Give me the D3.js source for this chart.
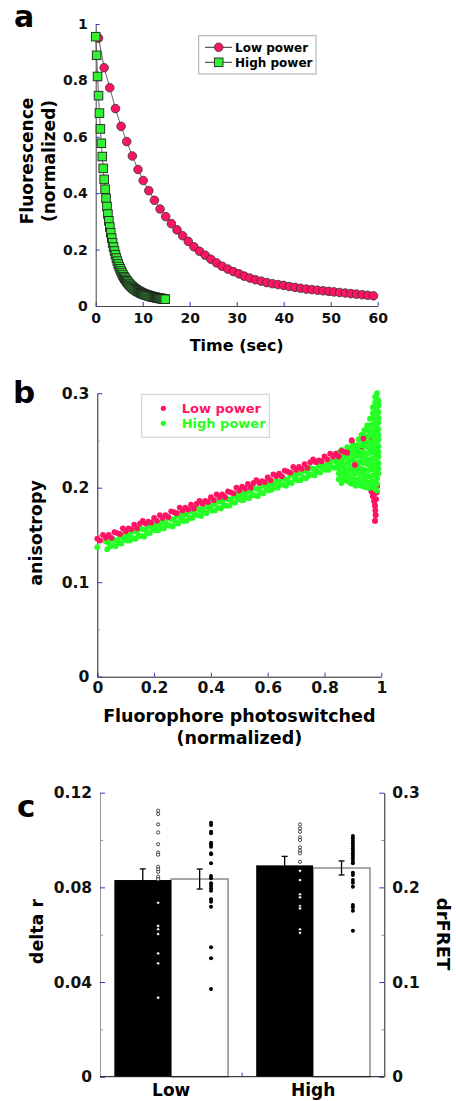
<!DOCTYPE html>
<html>
<head>
<meta charset="utf-8">
<script src="https://d3js.org/d3.v7.min.js"></script>
<style>
body { margin: 0; background: #fff; }
svg text { font-family: "DejaVu Sans", sans-serif; font-weight: bold; }
</style>
</head>
<body>
<div id="chart"></div>
<script>

// ---- panel a: fluorescence decay ----
var lowTime = [0.6,1.8,3.0,4.2,5.4,6.6,7.8,9.0,10.1,11.3,12.5,13.7,14.9,16.1,17.3,18.5,19.7,20.9,22.1,23.3,
  24.5,25.7,26.9,28.1,29.3,30.5,31.6,32.8,34.0,35.2,36.4,37.6,38.8,40.0,41.2,42.4,43.6,44.8,46.0,47.2,
  48.4,49.6,50.7,51.9,53.1,54.3,55.5,56.7,57.9,59.1];
var lowFluor = [0.950,0.845,0.774,0.700,0.637,0.583,0.532,0.484,0.445,0.409,
  0.375,0.344,0.317,0.292,0.270,0.249,0.229,0.210,0.194,0.180,
  0.166,0.153,0.141,0.131,0.122,0.114,0.106,0.099,0.093,0.088,
  0.083,0.079,0.076,0.073,0.069,0.066,0.063,0.060,0.058,0.056,
  0.054,0.052,0.050,0.048,0.046,0.044,0.042,0.040,0.038,0.036];
var highTime = [0,0.2,0.4,0.6,0.8,1.0,1.2,1.4,1.6,1.8,2.0,2.2,2.4,2.6,2.8,3.0,3.2,3.4,3.6,3.8,
  4.0,4.2,4.4,4.6,4.8,5.0,5.2,5.4,5.6,5.8,6.0,6.2,6.4,6.6,6.8,7.0,7.2,7.4,7.6,7.8,
  8.0,8.2,8.4,8.6,8.8,9.0,9.2,9.4,9.6,9.8,10.0,10.2,10.4,10.6,10.8,11.0,11.2,11.4,11.6,11.8,
  12.0,12.2,12.4,12.6,12.8,13.0,13.2,13.4,13.6,13.8,14.0,14.2,14.4,14.6,14.8];
var highFluor = [0.955,0.889,0.814,0.746,0.684,0.628,0.577,0.530,0.488,0.449,
  0.414,0.382,0.353,0.326,0.302,0.280,0.260,0.241,0.224,0.209,
  0.195,0.182,0.170,0.159,0.149,0.140,0.132,0.124,0.117,0.110,
  0.104,0.099,0.094,0.089,0.085,0.080,0.077,0.073,0.070,0.067,
  0.064,0.061,0.059,0.057,0.054,0.052,0.051,0.049,0.047,0.045,
  0.044,0.043,0.041,0.040,0.039,0.038,0.037,0.036,0.035,0.034,
  0.033,0.032,0.031,0.031,0.030,0.029,0.029,0.028,0.027,0.027,
  0.026,0.026,0.025,0.025,0.024];
var timeTicks = [0,10,20,30,40,50,60];
var fluorTicks = [0,0.2,0.4,0.6,0.8,1];

// ---- panel b: anisotropy vs fraction switched ----
var lowAniso = [
  [0.00,0.146],[0.01,0.144],[0.02,0.150],[0.03,0.147],[0.04,0.150],[0.05,0.147],[0.06,0.153],[0.07,0.152],
  [0.08,0.151],[0.09,0.157],[0.10,0.154],[0.11,0.157],[0.12,0.156],[0.13,0.161],[0.14,0.157],[0.15,0.162],
  [0.16,0.165],[0.17,0.162],[0.18,0.164],[0.19,0.163],[0.20,0.168],[0.21,0.165],[0.22,0.171],[0.23,0.168],
  [0.24,0.171],[0.25,0.169],[0.26,0.175],[0.27,0.174],[0.28,0.173],[0.29,0.179],[0.30,0.176],[0.31,0.179],
  [0.32,0.177],[0.33,0.182],[0.34,0.178],[0.35,0.183],[0.36,0.186],[0.37,0.183],[0.38,0.186],[0.39,0.185],
  [0.40,0.190],[0.41,0.187],[0.42,0.193],[0.43,0.190],[0.44,0.193],[0.45,0.190],[0.46,0.196],[0.47,0.195],
  [0.48,0.194],[0.49,0.200],[0.50,0.197],[0.51,0.201],[0.52,0.199],[0.53,0.204],[0.54,0.200],[0.55,0.205],
  [0.56,0.208],[0.57,0.205],[0.58,0.207],[0.59,0.206],[0.60,0.211],[0.61,0.208],[0.62,0.214],[0.63,0.212],
  [0.64,0.215],[0.65,0.212],[0.66,0.218],[0.67,0.217],[0.68,0.216],[0.69,0.222],[0.70,0.219],[0.71,0.222],
  [0.72,0.220],[0.73,0.225],[0.74,0.221],[0.75,0.227],[0.76,0.230],[0.77,0.227],[0.78,0.229],[0.79,0.228],
  [0.80,0.233],[0.81,0.230],[0.82,0.236],[0.83,0.233],[0.84,0.236],[0.85,0.233],[0.86,0.239],[0.87,0.238],
  [0.88,0.237]];
// pink points in the fan / spike, mostly hidden under the green cloud
var lowAnisoTail = [
  [0.89,0.240],[0.896,0.250],[0.90,0.237],[0.905,0.236],[0.91,0.238],[0.92,0.239],[0.93,0.241],[0.937,0.252],
  [0.945,0.244],[0.955,0.246],[0.965,0.250],[0.97,0.255],
  [0.866,0.213],[0.87,0.216],[0.90,0.219],[0.907,0.224],[0.91,0.221],[0.92,0.226],[0.93,0.218],[0.94,0.208],
  [0.95,0.205],[0.96,0.201],[0.965,0.196],[0.97,0.191],[0.972,0.199],[0.975,0.186],[0.977,0.194],[0.978,0.181],
  [0.979,0.176],[0.98,0.171],[0.978,0.165],[0.982,0.188],[0.984,0.195],[0.986,0.202]];
var lowAnisoOver = [[0.907,0.224],[0.896,0.250],[0.937,0.252],[0.978,0.181],[0.98,0.171],[0.978,0.165],[0.975,0.186]];
var highAniso = [
  [0.00,0.137],[0.03,0.143],[0.035,0.135],[0.04,0.142],[0.045,0.138],[0.05,0.146],[0.055,0.139],
  [0.06,0.145],[0.065,0.138],[0.07,0.144],[0.075,0.142],[0.08,0.148],[0.085,0.141],[0.09,0.150],[0.095,0.145],
  [0.10,0.148],[0.105,0.144],[0.11,0.150],[0.115,0.144],[0.12,0.153],[0.125,0.147],[0.13,0.154],[0.135,0.146],
  [0.14,0.153],[0.145,0.149],[0.15,0.157],[0.155,0.149],[0.16,0.156],[0.165,0.148],[0.17,0.155],[0.175,0.152],
  [0.18,0.159],[0.185,0.152],[0.19,0.161],[0.195,0.156],[0.20,0.159],[0.205,0.155],[0.21,0.161],[0.215,0.155],
  [0.22,0.163],[0.225,0.158],[0.23,0.164],[0.235,0.157],[0.24,0.163],[0.245,0.160],[0.25,0.168],[0.255,0.160],
  [0.26,0.167],[0.265,0.159],[0.27,0.166],[0.275,0.163],[0.28,0.170],[0.285,0.162],[0.29,0.172],[0.295,0.166],
  [0.30,0.170],[0.305,0.165],[0.31,0.172],[0.315,0.165],[0.32,0.174],[0.325,0.168],[0.33,0.175],[0.335,0.168],
  [0.34,0.174],[0.345,0.171],[0.35,0.178],[0.355,0.171],[0.36,0.177],[0.365,0.170],[0.37,0.176],[0.375,0.174],
  [0.38,0.180],[0.385,0.173],[0.39,0.182],[0.395,0.177],[0.40,0.181],[0.405,0.176],[0.41,0.183],[0.415,0.176],
  [0.42,0.185],[0.425,0.179],[0.43,0.186],[0.435,0.178],[0.44,0.185],[0.445,0.181],[0.45,0.189],[0.455,0.181],
  [0.46,0.188],[0.465,0.181],[0.47,0.187],[0.475,0.185],[0.48,0.191],[0.485,0.184],[0.49,0.193],[0.495,0.188],
  [0.50,0.191],[0.505,0.187],[0.51,0.193],[0.515,0.187],[0.52,0.195],[0.525,0.190],[0.53,0.196],[0.535,0.189],
  [0.54,0.196],[0.545,0.192],[0.55,0.200],[0.555,0.192],[0.56,0.199],[0.565,0.191],[0.57,0.198],[0.575,0.195],
  [0.58,0.202],[0.585,0.194],[0.59,0.204],[0.595,0.198],[0.60,0.202],[0.605,0.197],[0.61,0.204],[0.615,0.198],
  [0.62,0.206],[0.625,0.201],[0.63,0.207],[0.635,0.200],[0.64,0.206],[0.645,0.203],[0.65,0.210],[0.655,0.203],
  [0.66,0.209],[0.665,0.202],[0.67,0.208],[0.675,0.206],[0.68,0.213],[0.685,0.205],[0.69,0.215],[0.695,0.209],
  [0.70,0.213],[0.705,0.208],[0.71,0.215],[0.715,0.208],[0.72,0.217],[0.725,0.211],[0.73,0.218],[0.735,0.210],
  [0.74,0.217],[0.745,0.213],[0.75,0.221],[0.755,0.214],[0.76,0.220],[0.765,0.213],[0.77,0.219],[0.775,0.217],
  [0.78,0.223],[0.785,0.216],[0.79,0.225],[0.795,0.220],[0.80,0.223],[0.805,0.219],[0.81,0.225],[0.815,0.219],
  [0.82,0.227],[0.825,0.222],[0.83,0.229],[0.835,0.221],[0.84,0.228],[0.845,0.224]];
// dense columns near full switching: [x, [anisotropy values]]
var highAnisoSpike = [
  [0.85,[0.237,0.231,0.226,0.220,0.215,0.209]],
  [0.86,[0.240,0.234,0.229,0.223,0.217,0.211,0.205]],
  [0.87,[0.238,0.232,0.225,0.220,0.214,0.208]],
  [0.88,[0.243,0.237,0.231,0.226,0.219,0.213,0.207]],
  [0.89,[0.241,0.236,0.229,0.223,0.218,0.211,0.205]],
  [0.90,[0.246,0.240,0.234,0.229,0.222,0.216,0.210,0.204]],
  [0.91,[0.244,0.238,0.233,0.226,0.220,0.215,0.208,0.202]],
  [0.92,[0.251,0.245,0.239,0.234,0.227,0.221,0.216,0.209,0.203]],
  [0.93,[0.256,0.250,0.245,0.238,0.232,0.227,0.220,0.214,0.208,0.202]],
  [0.94,[0.261,0.255,0.249,0.244,0.237,0.231,0.226,0.219,0.213,0.207,0.201]],
  [0.95,[0.266,0.261,0.254,0.248,0.243,0.236,0.230,0.225,0.218,0.212,0.206,0.200]],
  [0.96,[0.273,0.266,0.260,0.255,0.248,0.242,0.237,0.230,0.224,0.219,0.212,0.206,0.200]],
  [0.97,[0.285,0.279,0.274,0.267,0.261,0.256,0.249,0.243,0.238,0.231,0.225,0.220,0.213,0.207,0.201]],
  [0.978,[0.296,0.290,0.285,0.278,0.272,0.267,0.260,0.254,0.249,0.242,0.236,0.231,0.224,0.218,0.213,0.206,0.199]],
  [0.985,[0.300,0.294,0.289,0.282,0.276,0.271,0.264,0.258,0.253,0.246,0.240,0.235,0.228,0.222,0.217,0.210,0.204,0.197]],
  [0.99,[0.292,0.287,0.280,0.274,0.269,0.262,0.256,0.251,0.244,0.238,0.233,0.226,0.220,0.215]]];
var switchedTicks = [0,0.2,0.4,0.6,0.8,1];
var anisoTicks = [0,0.1,0.2,0.3];
var anisoMinor = [0.05,0.15,0.25];

// ---- panel c: bars ----
var groups = ["Low", "High"];
var deltaR = [0.0831, 0.0893];
var deltaRErr = [0.0047, 0.0038];
var drFRET = [0.2088, 0.2205];
var drFRETErr = [0.0106, 0.0074];
var deltaRDots = [
  [0.1124,0.1110,0.1066,0.1032,0.0982,0.0947,0.0938,0.0887,0.0876,0.0866,0.0845,0.0834,0.0735,0.0637,0.0623,0.0603,0.0521,0.0479,0.0334],
  [0.1066,0.1049,0.1035,0.1011,0.1000,0.0969,0.0955,0.0944,0.0908,0.0870,0.0831,0.0770,0.0758,0.0721,0.0711,0.0623,0.0608]];
var drFRETDots = [
  [0.2683,0.2659,0.2588,0.2571,0.2472,0.2455,0.2430,0.2360,0.2349,0.2254,0.2120,0.2096,0.2043,0.2018,0.1990,0.1965,0.1874,0.1849,0.1796,0.1367,0.1251,0.0926],
  [0.2543,0.2518,0.2493,0.2465,0.2440,0.2412,0.2387,0.2360,0.2334,0.2307,0.2278,0.2254,0.2155,0.2131,0.2078,0.2049,0.2007,0.1814,0.1789,0.1754,0.1542]];
var deltaRTicks = [0,0.04,0.08,0.12];
var deltaRMinor = [0.02,0.06,0.1];
var drFRETTicks = [0,0.1,0.2,0.3];
var drFRETMinor = [0.05,0.15,0.25];

var pink = "#ff1464", green = "#25ff25", greenSq = "#33f033";
var tickBlue = "#2a3ac8", tickPale = "#8a90c8";
var fmt = d3.format("~g");

var svg = d3.select("#chart").append("svg")
    .attr("width", 456)
    .attr("height", 1101);

function styleAxis(g, size, lineColor) {
  g.attr("font-family", null).attr("font-size", size);
  g.select(".domain").attr("stroke", lineColor);
  g.selectAll(".tick line").attr("stroke", tickBlue);
  g.selectAll(".tick text").attr("fill", "#111");
}
function minorTicks(g) {
  g.select(".domain").remove();
  g.selectAll(".tick line").attr("stroke", tickPale);
}

// ================= panel a =================
var xa = d3.scaleLinear().domain([0, 60]).range([95.7, 377.7]);
var ya = d3.scaleLinear().domain([0, 1]).range([306, 24]);

svg.append("g")
    .attr("transform", "translate(0," + ya(0) + ")")
    .call(d3.axisBottom(xa).tickValues(timeTicks).tickFormat(fmt).tickSize(-4).tickSizeOuter(0).tickPadding(7))
    .call(styleAxis, 14, "#444");
svg.append("g")
    .attr("transform", "translate(" + xa(0) + ",0)")
    .call(d3.axisLeft(ya).tickValues(fluorTicks).tickFormat(fmt).tickSize(-4).tickSizeOuter(0).tickPadding(8))
    .call(styleAxis, 14, "#444");

var lowData = d3.zip(lowTime, lowFluor);
var highData = d3.zip(highTime, highFluor);
var lineA = d3.line().x(function(d) { return xa(d[0]); }).y(function(d) { return ya(d[1]); });

svg.append("path").datum(lowData)
    .attr("fill", "none").attr("stroke", "#666").attr("stroke-width", 1)
    .attr("d", lineA);
svg.selectAll(".lowpt").data(lowData).enter().append("circle")
    .attr("class", "lowpt")
    .attr("cx", function(d) { return xa(d[0]); })
    .attr("cy", function(d) { return ya(d[1]); })
    .attr("r", 4.3)
    .attr("fill", pink).attr("stroke", "#333").attr("stroke-width", 0.8);

svg.append("path").datum(highData)
    .attr("fill", "none").attr("stroke", "#666").attr("stroke-width", 1)
    .attr("d", lineA);
svg.selectAll(".highpt").data(highData).enter().append("rect")
    .attr("class", "highpt")
    .attr("x", function(d) { return xa(d[0]) - 4.3; })
    .attr("y", function(d) { return ya(d[1]) - 4.3; })
    .attr("width", 8.6).attr("height", 8.6)
    .attr("fill", greenSq).attr("stroke", "#222").attr("stroke-width", 0.9);

// legend a
svg.append("rect").attr("x", 198.7).attr("y", 35.7).attr("width", 117.3).attr("height", 38.3)
    .attr("fill", "#fff").attr("stroke", "#aaa").attr("stroke-width", 1);
[["Low power", 47.3], ["High power", 62.3]].forEach(function(e, i) {
  svg.append("line").attr("x1", 205).attr("x2", 232).attr("y1", e[1]).attr("y2", e[1])
      .attr("stroke", "#333").attr("stroke-width", 1);
  if (i == 0) {
    svg.append("circle").attr("cx", 218.7).attr("cy", e[1]).attr("r", 4.3)
        .attr("fill", pink).attr("stroke", "#333").attr("stroke-width", 0.8);
  } else {
    svg.append("rect").attr("x", 214.4).attr("y", e[1] - 4.3).attr("width", 8.6).attr("height", 8.6)
        .attr("fill", greenSq).attr("stroke", "#222").attr("stroke-width", 0.9);
  }
  svg.append("text").attr("x", 235).attr("y", e[1] + 4.3).attr("font-size", 12).text(e[0]);
});

svg.append("text").attr("x", 14).attr("y", 27).attr("font-size", 30).text("a");
svg.append("text").attr("x", 236.7).attr("y", 351).attr("font-size", 16)
    .style("text-anchor", "middle").text("Time (sec)");
svg.append("text").attr("transform", "translate(33.3,161) rotate(-90)").attr("font-size", 17)
    .style("text-anchor", "middle").text("Fluorescence");
svg.append("text").attr("transform", "translate(54.5,161) rotate(-90)").attr("font-size", 17)
    .style("text-anchor", "middle").text("(normalized)");

// ================= panel b =================
var xb = d3.scaleLinear().domain([0, 1]).range([97.3, 381.3]);
var yb = d3.scaleLinear().domain([0, 0.3]).range([676.7, 393.2]);

svg.append("g")
    .attr("transform", "translate(0," + yb(0) + ")")
    .call(d3.axisBottom(xb).tickValues(switchedTicks).tickFormat(fmt).tickSize(-4).tickSizeOuter(0).tickPadding(5))
    .call(styleAxis, 15.6, "#222");
svg.append("g")
    .attr("transform", "translate(" + xb(0) + ",0)")
    .call(d3.axisLeft(yb).tickValues(anisoTicks).tickFormat(fmt).tickSize(-5).tickSizeOuter(0).tickPadding(8))
    .call(styleAxis, 15.6, "#222");
svg.append("g")
    .attr("transform", "translate(" + xb(0) + ",0)")
    .call(d3.axisLeft(yb).tickValues(anisoMinor).tickFormat("").tickSize(-2.5))
    .call(minorTicks);

var highSpikePts = [];
highAnisoSpike.forEach(function(c) {
  c[1].forEach(function(v) { highSpikePts.push([c[0], v]); });
});

function dots(cls, data, color) {
  svg.selectAll("." + cls).data(data).enter().append("circle")
      .attr("class", cls)
      .attr("cx", function(d) { return xb(d[0]); })
      .attr("cy", function(d) { return yb(d[1]); })
      .attr("r", 2.9).attr("fill", color);
}
dots("ptail", lowAnisoTail, pink);
dots("gdot", highAniso.concat(highSpikePts), green);
dots("pdot", lowAniso, pink);
dots("pover", lowAnisoOver, pink);

// legend b
svg.append("rect").attr("x", 141.7).attr("y", 394.3).attr("width", 127.6).attr("height", 43)
    .attr("fill", "none").attr("stroke", "#ccc").attr("stroke-width", 1);
[["Low power", 408.3, pink], ["High power", 423.3, green]].forEach(function(e) {
  svg.append("circle").attr("cx", 163.3).attr("cy", e[1]).attr("r", 2.6).attr("fill", e[2]);
  svg.append("text").attr("x", 181.7).attr("y", e[1] + 4.7).attr("font-size", 13)
      .attr("fill", e[2]).text(e[0]);
});

svg.append("text").attr("x", 13).attr("y", 403).attr("font-size", 31).text("b");
svg.append("text").attr("transform", "translate(41.7,533) rotate(-90)").attr("font-size", 17.5)
    .style("text-anchor", "middle").text("anisotropy");
svg.append("text").attr("x", 239.3).attr("y", 722).attr("font-size", 17.5)
    .style("text-anchor", "middle").text("Fluorophore photoswitched");
svg.append("text").attr("x", 239.3).attr("y", 744).attr("font-size", 17.5)
    .style("text-anchor", "middle").text("(normalized)");

// ================= panel c =================
var xc = d3.scaleBand().domain(groups).range([100, 384.3]).paddingInner(0.198).paddingOuter(0.101);
var xSub = d3.scaleBand().domain(["deltaR", "drFRET"]).range([0, xc.bandwidth()]);
var ycL = d3.scaleLinear().domain([0, 0.12]).range([1076.7, 792.7]);
var ycR = d3.scaleLinear().domain([0, 0.3]).range([1076.7, 792.7]);

svg.append("g")
    .attr("transform", "translate(100,0)")
    .call(d3.axisLeft(ycL).tickValues(deltaRTicks).tickFormat(fmt).tickSize(-5).tickSizeOuter(0).tickPadding(8))
    .call(styleAxis, 15.5, "#999");
svg.append("g")
    .attr("transform", "translate(100,0)")
    .call(d3.axisLeft(ycL).tickValues(deltaRMinor).tickFormat("").tickSize(-3))
    .call(minorTicks);
svg.append("g")
    .attr("transform", "translate(384.3,0)")
    .call(d3.axisRight(ycR).tickValues(drFRETTicks).tickFormat(fmt).tickSize(-5).tickSizeOuter(0).tickPadding(8))
    .call(styleAxis, 15.5, "#222");
svg.append("g")
    .attr("transform", "translate(384.3,0)")
    .call(d3.axisRight(ycR).tickValues(drFRETMinor).tickFormat("").tickSize(-3))
    .call(minorTicks);

// white drFRET bars first so the black bars cover their left edge
groups.forEach(function(gname, i) {
  var x0 = xc(gname) + xSub("drFRET");
  svg.append("rect")
      .attr("x", x0).attr("y", ycR(drFRET[i]))
      .attr("width", xSub.bandwidth()).attr("height", ycR(0) - ycR(drFRET[i]))
      .attr("fill", "#fff").attr("stroke", "#8c8c8c").attr("stroke-width", 1.5);
});
groups.forEach(function(gname, i) {
  var x0 = xc(gname) + xSub("deltaR");
  svg.append("rect")
      .attr("x", x0).attr("y", ycL(deltaR[i]))
      .attr("width", xSub.bandwidth()).attr("height", ycL(0) - ycL(deltaR[i]))
      .attr("fill", "#000");
});

// bottom axis line and the separator tick
svg.append("line").attr("x1", 100).attr("x2", 384.3).attr("y1", ycL(0)).attr("y2", ycL(0))
    .attr("stroke", "#111").attr("stroke-width", 1);
var sepX = (xc("Low") + xc.bandwidth() + xc("High")) / 2;
svg.append("line").attr("x1", sepX).attr("x2", sepX).attr("y1", ycL(0)).attr("y2", ycL(0) - 4)
    .attr("stroke", tickBlue);

function errBar(cx, yTop, yBot) {
  svg.append("line").attr("x1", cx).attr("x2", cx).attr("y1", yTop).attr("y2", yBot)
      .attr("stroke", "#000").attr("stroke-width", 1.3);
  [yTop, yBot].forEach(function(y) {
    svg.append("line").attr("x1", cx - 3).attr("x2", cx + 3).attr("y1", y).attr("y2", y)
        .attr("stroke", "#000").attr("stroke-width", 1.3);
  });
}
groups.forEach(function(gname, i) {
  var cxL = xc(gname) + xSub("deltaR") + xSub.bandwidth() / 2;
  errBar(cxL, ycL(deltaR[i] + deltaRErr[i]), ycL(deltaR[i] - deltaRErr[i]));
  var cxR = xc(gname) + xSub("drFRET") + xSub.bandwidth() / 2;
  errBar(cxR, ycR(drFRET[i] + drFRETErr[i]), ycR(drFRET[i] - drFRETErr[i]));

  var dxL = xc(gname) + xSub("deltaR") + xSub.bandwidth() * 0.77;
  svg.selectAll(".dl" + i).data(deltaRDots[i]).enter().append("circle")
      .attr("cx", dxL).attr("cy", function(d) { return ycL(d); })
      .attr("r", 1.6).attr("fill", "#fff").attr("stroke", "#000").attr("stroke-width", 0.7);
  var dxR = xc(gname) + xSub("drFRET") + xSub.bandwidth() * 0.7;
  svg.selectAll(".dr" + i).data(drFRETDots[i]).enter().append("circle")
      .attr("cx", dxR).attr("cy", function(d) { return ycR(d); })
      .attr("r", 2).attr("fill", "#000");
});

groups.forEach(function(gname) {
  svg.append("text").attr("x", xc(gname) + xc.bandwidth() / 2).attr("y", 1096)
      .attr("font-size", 17).style("text-anchor", "middle").text(gname);
});

svg.append("text").attr("x", 17).attr("y", 817).attr("font-size", 31).text("c");
svg.append("text").attr("transform", "translate(43.3,931.5) rotate(-90)").attr("font-size", 17.5)
    .style("text-anchor", "middle").text("delta r");
svg.append("text").attr("transform", "translate(436.7,934) rotate(90)").attr("font-size", 18)
    .style("text-anchor", "middle").text("drFRET");

</script>
</body>
</html>
